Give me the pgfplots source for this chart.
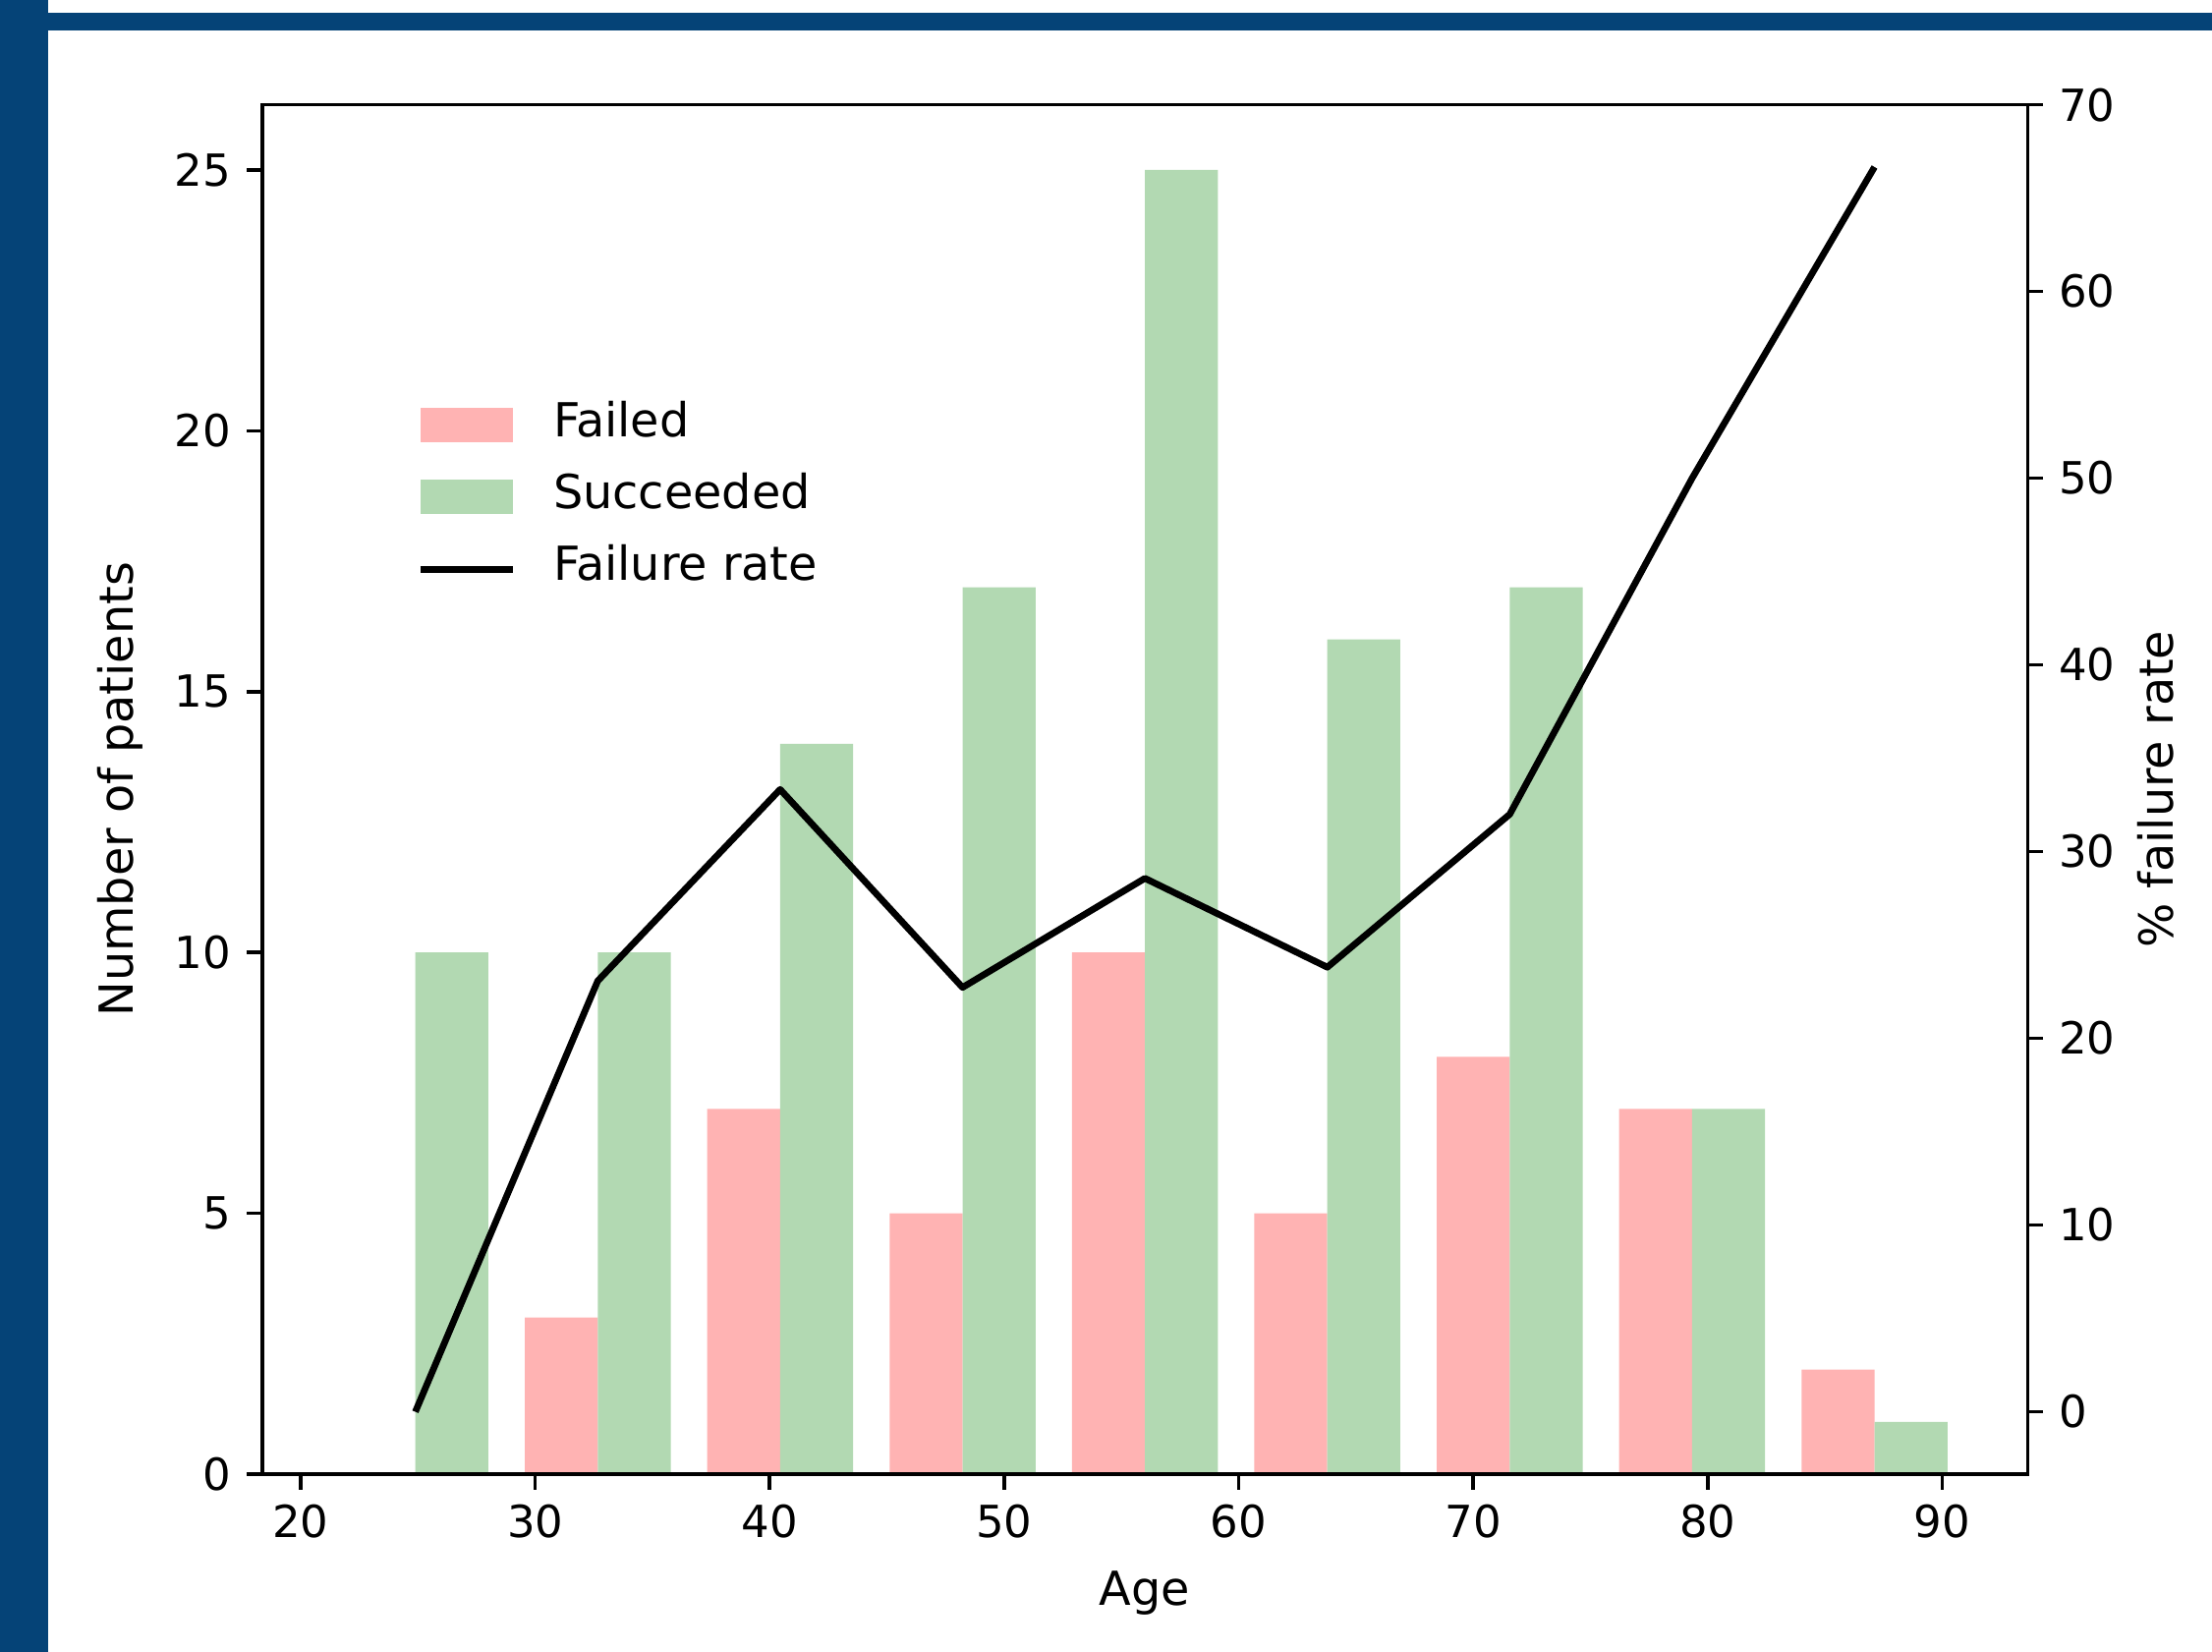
\documentclass[border=0pt]{standalone}
\usepackage{pgfplots}
\pgfplotsset{compat=1.18}
\usepackage{fontspec}
\setmainfont{DejaVu Sans}
\definecolor{frameblue}{RGB}{5,67,119}
\definecolor{failred}{RGB}{255,179,179}
\definecolor{succgreen}{RGB}{178,217,178}
\pgfplotsset{
  common/.style={
    at={(0,0)}, anchor=south west,
    width=399.2pt, height=309.6pt, scale only axis,
    xmin=18.36, xmax=93.64,
    tick align=outside,
    major tick length=3.5pt,
    every tick/.style={black, line width=0.8pt},
    axis line style={line width=0.8pt, black},
    tick label style={font=\fontsize{10}{12}\selectfont},
    label style={font=\fontsize{10.6}{12}\selectfont},
    /pgf/number format/assume math mode=true,
  }
}
\begin{document}
\begin{tikzpicture}
\path[use as bounding box] (-59.3pt,-40.2pt) rectangle (440.9pt,333.3pt);
\fill[white] (-59.3pt,-40.2pt) rectangle (440.9pt,333.3pt);
\fill[frameblue] (-59.3pt,-40.2pt) rectangle (-48.4pt,333.3pt);
\fill[frameblue] (-59.3pt,326.3pt) rectangle (440.9pt,330.5pt);
\begin{axis}[
  common,
  ymin=0, ymax=26.25,
  xtick={20,30,...,90}, ytick={0,5,...,25},
  xtick pos=bottom, ytick pos=left,
  axis on top,
  xlabel={Age}, ylabel={Number of patients},
  xlabel style={at={(axis description cs:0.5,0)}, anchor=center, yshift=-27pt},
  ylabel style={at={(axis description cs:-0.0802,0.5)}, anchor=center},
]
\addplot[ybar, bar width=3.1111, bar shift=0pt, fill=failred, draw=none] coordinates {
(23.3333,0) (31.1111,3) (38.8889,7) (46.6667,5) (54.4444,10) (62.2222,5) (70.0,8) (77.7778,7) (85.5556,2)};
\addplot[ybar, bar width=3.1111, bar shift=0pt, fill=succgreen, draw=none] coordinates {
(26.4444,10) (34.2222,10) (42.0,14) (49.7778,17) (57.5556,25) (65.3333,16) (73.1111,17) (80.8889,7) (88.6667,1)};
\end{axis}
\begin{axis}[
  common,
  ymin=-3.3333, ymax=70,
  axis x line=none, axis y line*=right,
  ytick={0,10,...,70},
  ylabel={\% failure rate},
  ylabel style={at={(axis description cs:1.0726,0.5)}, anchor=center},
  legend style={at={(axis description cs:0.0872,0.7134)}, anchor=west, draw=none, fill=none,
    font=\fontsize{10.6}{12}\selectfont, row sep=4.0pt, inner sep=0pt,
    nodes={inner sep=1pt, text height=7.7pt, text depth=2.6pt}},
  legend cell align=left,
]
\addlegendimage{legend image code/.code={\path[fill=failred, draw=none] (0pt,-3.9pt) rectangle (21pt,3.9pt); \path (28.3pt,0pt);}}
\addlegendentry{Failed}
\addlegendimage{legend image code/.code={\path[fill=succgreen, draw=none] (0pt,-3.9pt) rectangle (21pt,3.9pt); \path (28.3pt,0pt);}}
\addlegendentry{Succeeded}
\addplot[black, line width=1.5pt, line join=round, mark=none,
  legend image code/.code={\draw[black, line width=1.5pt] (0pt,0pt) -- (21pt,0pt); \path (28.3pt,0pt);}] coordinates {
(24.8889,0) (32.6667,23.0769) (40.4444,33.3333) (48.2222,22.7273) (56.0,28.5714) (63.7778,23.8095) (71.5556,32) (79.3333,50) (87.1111,66.6667)};
\addlegendentry{Failure rate}
\end{axis}
\end{tikzpicture}
\end{document}
